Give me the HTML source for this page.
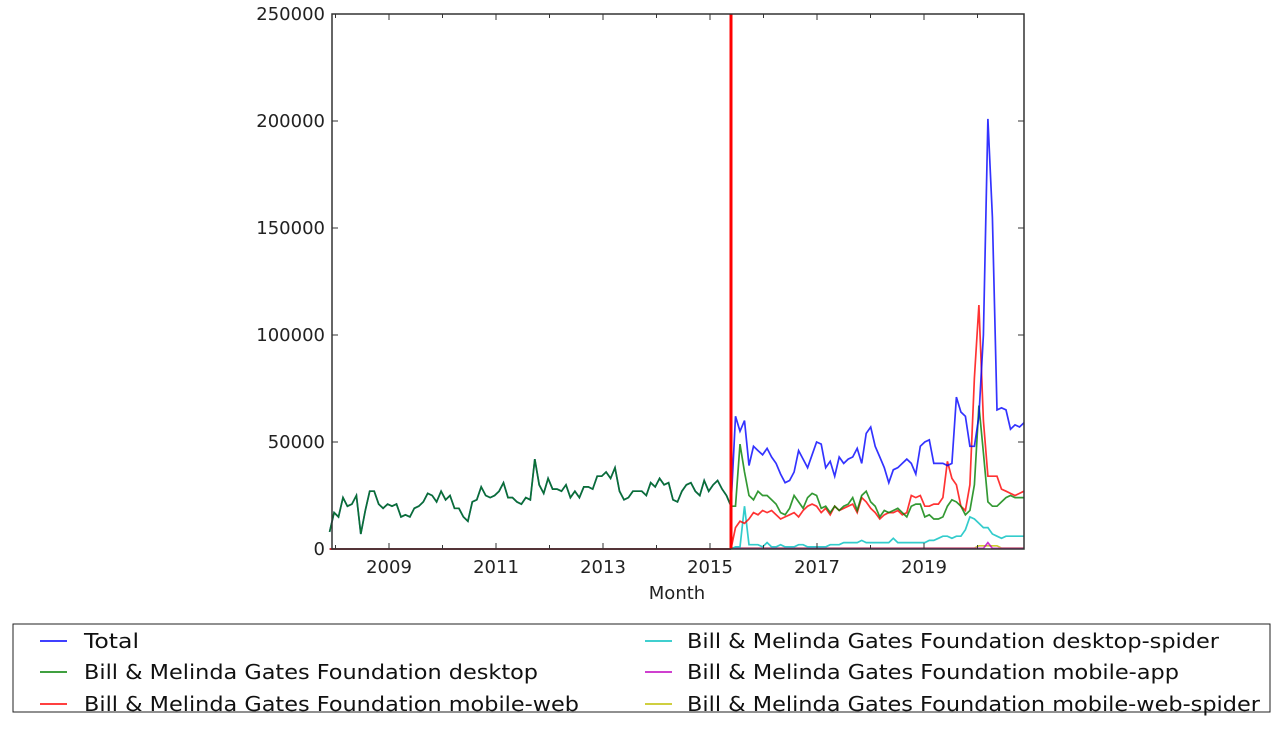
<!DOCTYPE html>
<html><head><meta charset="utf-8"><style>
html,body{margin:0;padding:0;background:#fff;width:1280px;height:738px;overflow:hidden}
svg{font-family:"DejaVu Sans","Liberation Sans",sans-serif}
</style></head><body>
<svg id="s" width="1280" height="738" xmlns="http://www.w3.org/2000/svg">
<g font-size="18" fill="#222" text-anchor="end">
<text x="325" y="20">250000</text>
<text x="325" y="127">200000</text>
<text x="325" y="234">150000</text>
<text x="325" y="341">100000</text>
<text x="325" y="448">50000</text>
<text x="325" y="555">0</text>
</g>
<g font-size="18" fill="#222" text-anchor="middle">
<text x="389" y="573">2009</text>
<text x="496" y="573">2011</text>
<text x="603" y="573">2013</text>
<text x="710" y="573">2015</text>
<text x="817" y="573">2017</text>
<text x="924" y="573">2019</text>
<text x="677" y="599">Month</text>
</g>
<g id="plot"></g>
<line x1="731" y1="14" x2="731" y2="549" stroke="#ff0000" stroke-width="3"/>
<rect x="332" y="14" width="692" height="535" fill="none" stroke="#333" stroke-width="1.5"/>
<g id="ticks" stroke="#333" stroke-width="1"></g>
<rect x="13" y="624" width="1257" height="88" fill="#fff" stroke="#222" stroke-width="1"/>
<g stroke-width="1.5">
<line x1="40" y1="641" x2="67" y2="641" stroke="#0000ff"/>
<line x1="40" y1="672" x2="67" y2="672" stroke="#008000"/>
<line x1="40" y1="704" x2="67" y2="704" stroke="#ff0000"/>
<line x1="645" y1="641" x2="672" y2="641" stroke="#00bfbf"/>
<line x1="645" y1="672" x2="672" y2="672" stroke="#bf00bf"/>
<line x1="645" y1="704" x2="672" y2="704" stroke="#bfbf00"/>
</g>
<g font-size="20.5" fill="#111">
<text x="84" y="648" textLength="55" lengthAdjust="spacingAndGlyphs">Total</text>
<text x="84" y="679" textLength="454" lengthAdjust="spacingAndGlyphs">Bill &amp; Melinda Gates Foundation desktop</text>
<text x="84" y="711" textLength="495" lengthAdjust="spacingAndGlyphs">Bill &amp; Melinda Gates Foundation mobile-web</text>
<text x="687" y="648" textLength="532" lengthAdjust="spacingAndGlyphs">Bill &amp; Melinda Gates Foundation desktop-spider</text>
<text x="687" y="679" textLength="492" lengthAdjust="spacingAndGlyphs">Bill &amp; Melinda Gates Foundation mobile-app</text>
<text x="687" y="711" textLength="573" lengthAdjust="spacingAndGlyphs">Bill &amp; Melinda Gates Foundation mobile-web-spider</text>
</g>
</svg>
<script>
const NS="http://www.w3.org/2000/svg";
const plot=document.getElementById('plot');
const Y=v=>549-2.14*v;
function line(x0,vals,col,step){
  let p=vals.map((v,i)=>(x0+i*step).toFixed(1)+","+Y(v).toFixed(1)).join(" ");
  let e=document.createElementNS(NS,"polyline");
  e.setAttribute("points",p);e.setAttribute("fill","none");e.setAttribute("stroke",col);
  e.setAttribute("stroke-width","1.7");e.setAttribute("opacity","0.8");plot.appendChild(e);
}
const pre=[8,17,15,24,20,21,25,7,18,27,27,21,19,21,20,21,15,16,15,19,20,22,26,25,22,27,23,25,19,19,15,13,22,23,29,25,24,25,27,31,24,24,22,21,24,23,42,30,26,33,28,28,27,30,24,27,24,29,29,28,34,34,36,33,38,27,23,24,27,27,27,25,31,29,33,30,31,23,22,27,30,31,27,25,32,27,30,32,28,25,20];
const st=4.46;
const x1=731-(pre.length-1)*st;
const tot=[20,62,55,60,39,48,46,44,47,43,40,35,31,32,36,46,42,38,44,50,49,38,41,34,43,40,42,43,47,40,54,57,48,43,38,31,37,38,40,42,40,35,48,50,51,40,40,40,39,40,71,64,62,48,48,62,100,201,155,65,66,65,56,58,57,59];
const grn=[20,20,49,36,25,23,27,25,25,23,21,17,16,19,25,22,19,24,26,25,19,20,17,20,18,20,21,24,18,25,27,22,20,15,18,17,18,19,17,15,20,21,21,15,16,14,14,15,20,23,22,20,16,18,30,67,45,22,20,20,22,24,25,24,24,24];
const red=[0,10,13,12,14,17,16,18,17,18,16,14,15,16,17,15,18,20,21,20,17,19,16,20,18,19,20,21,17,24,22,19,17,14,16,17,17,18,16,17,25,24,25,20,20,21,21,24,41,33,30,20,18,30,80,114,60,34,34,34,28,27,26,25,26,27];
const cy=[0,1,1,20,2,2,2,1,3,1,1,2,1,1,1,2,2,1,1,1,1,1,2,2,2,3,3,3,3,4,3,3,3,3,3,3,5,3,3,3,3,3,3,3,4,4,5,6,6,5,6,6,9,15,14,12,10,10,7,6,5,6,6,6,6,6];
const st2=(1024-731)/(tot.length-1);
const zeros=n=>Array(n).fill(0);
line(x1,zeros(pre.length),"#bfbf00",st);
line(x1,zeros(pre.length),"#bf00bf",st);
line(x1,zeros(pre.length),"#00bfbf",st);
line(x1,zeros(pre.length),"#ff0000",st);
line(x1,pre,"#0000ff",st);
line(x1,pre,"#008000",st);
line(731,zeros(tot.length).map((v,i)=>i>54&&i<60?1.5:0.4),"#bfbf00",st2);
line(731,zeros(tot.length).map((v,i)=>i==57?3:0.3),"#bf00bf",st2);
line(731,cy,"#00bfbf",st2);
line(731,red,"#ff0000",st2);
line(731,grn,"#008000",st2);
line(731,tot,"#0000ff",st2);
const tk=document.getElementById('ticks');
function tl(a,b,c,d){let e=document.createElementNS(NS,"line");e.setAttribute("x1",a);e.setAttribute("y1",b);e.setAttribute("x2",c);e.setAttribute("y2",d);tk.appendChild(e);}
for(let yr=2008;yr<=2020;yr++){let x=389+(yr-2009)*53.5;if(x>332&&x<1024){let L=(yr%2)?6:4;tl(x,549,x,549-L);tl(x,14,x,14+L);}}
for(let v=0;v<=250;v+=50){let y=Y(v);tl(332,y,338,y);tl(1024,y,1018,y);}
</script>
</body></html>
